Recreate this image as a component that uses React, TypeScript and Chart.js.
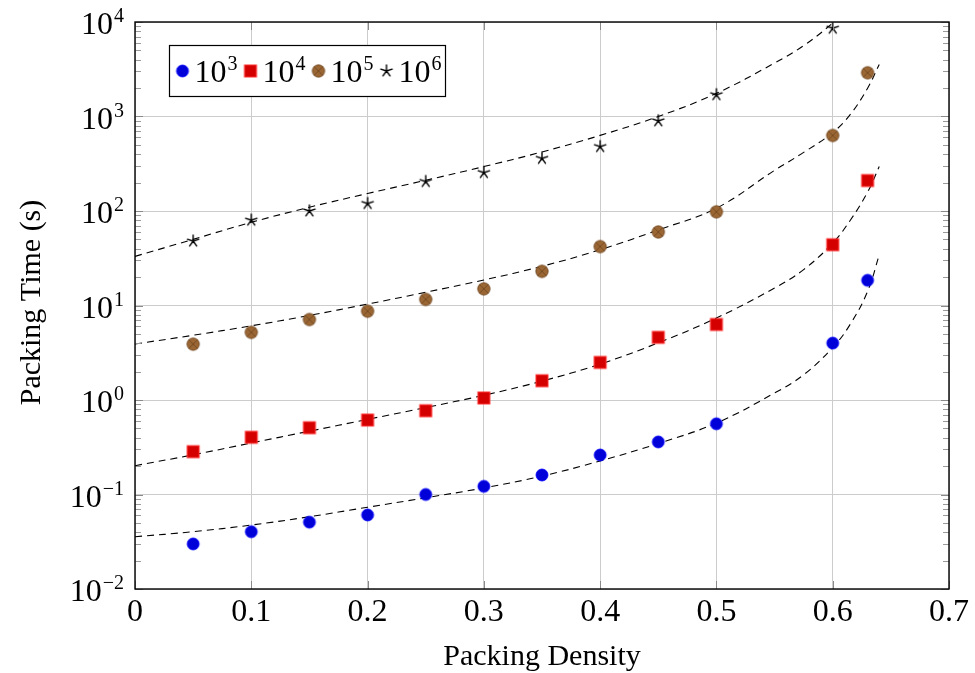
import React, { useEffect, useRef } from 'react';
import { Chart, registerables } from 'chart.js';
Chart.register(...registerables);

// ---- data ----
const densities = [0.05, 0.1, 0.15, 0.2, 0.25, 0.3, 0.35, 0.4, 0.45, 0.5, 0.6, 0.63];
const densitiesStar = [0.05, 0.1, 0.15, 0.2, 0.25, 0.3, 0.35, 0.4, 0.45, 0.5, 0.6];
const time1e3 = [0.030, 0.0404, 0.051, 0.0607, 0.10, 0.122, 0.161, 0.262, 0.36, 0.56, 4.0, 18.5];
const time1e4 = [0.284, 0.403, 0.509, 0.614, 0.77, 1.05, 1.6, 2.5, 4.6, 6.3, 44, 210];
const time1e5 = [3.9, 5.2, 7.1, 8.7, 11.6, 15, 23, 42, 60, 98, 630, 2900];
const time1e6 = [48, 80, 100, 120, 205, 255, 360, 480, 900, 1700, 8600];

// dashed fit curves
const fitDensity = [0, 0.05, 0.1, 0.15, 0.2, 0.25, 0.3, 0.35, 0.4, 0.45, 0.5, 0.55, 0.575, 0.6, 0.615, 0.63, 0.64];
const fit1e3 = [0.0357, 0.0404, 0.0475, 0.0582, 0.0733, 0.0923, 0.1175, 0.1567, 0.2265, 0.3467, 0.571, 1.186, 1.849, 3.597, 6.31, 14.13, 34.2];
const fit1e4 = [0.2018, 0.263, 0.3508, 0.4677, 0.6237, 0.8318, 1.122, 1.585, 2.399, 4.027, 7.38, 15.31, 23.99, 45.81, 79.43, 158.5, 295.1];
const fit1e5 = [3.917, 4.842, 6.095, 7.852, 10.35, 13.8, 18.62, 26.0, 38.9, 63.1, 107.2, 269.2, 416.9, 676.1, 1047, 1995, 3548];
const fitDensityStar = [0, 0.05, 0.1, 0.15, 0.2, 0.25, 0.3, 0.35, 0.4, 0.45, 0.5, 0.55, 0.575, 0.6, 0.61];
const fit1e6 = [33.1, 50.1, 75.9, 109.6, 153.1, 211.3, 295.1, 421.7, 631, 1000, 1758, 3681, 5623, 9772, 13180];

const xTicks = [0, 0.1, 0.2, 0.3, 0.4, 0.5, 0.6, 0.7];
const yExponents = [-2, -1, 0, 1, 2, 3, 4];
const seriesExponents = ['3', '4', '5', '6'];

const FONT = '"Liberation Serif", "Times New Roman", serif';

function makeMarker(kind: string): HTMLCanvasElement {
  const c = document.createElement('canvas');
  const s = 16;
  c.width = s; c.height = s;
  const g = c.getContext('2d')!;
  const m = s / 2;
  if (kind === 'blue') {
    g.beginPath(); g.arc(m, m, 6, 0, Math.PI * 2);
    g.fillStyle = '#0000d8'; g.fill();
    g.lineWidth = 0.8; g.strokeStyle = '#0000ff'; g.stroke();
  } else if (kind === 'red') {
    g.fillStyle = '#d40000';
    g.fillRect(m - 6, m - 6, 12, 12);
    g.lineWidth = 1; g.strokeStyle = '#ff3030';
    g.strokeRect(m - 6, m - 6, 12, 12);
  } else if (kind === 'brown') {
    g.beginPath(); g.arc(m, m, 6.2, 0, Math.PI * 2);
    g.fillStyle = '#9a6634'; g.fill();
    g.lineWidth = 0.8; g.strokeStyle = '#6e4520'; g.stroke();
    const r = 6.2 * Math.SQRT1_2;
    g.beginPath();
    g.moveTo(m - r, m - r); g.lineTo(m + r, m + r);
    g.moveTo(m + r, m - r); g.lineTo(m - r, m + r);
    g.lineWidth = 0.8; g.strokeStyle = '#6e4520'; g.stroke();
  } else {
    g.beginPath();
    for (let i = 0; i < 5; i++) {
      const a = -Math.PI / 2 + (i * 2 * Math.PI) / 5;
      g.moveTo(m, m);
      g.lineTo(m + 6 * Math.cos(a), m + 6 * Math.sin(a));
    }
    g.lineWidth = 1.4; g.lineCap = 'round'; g.strokeStyle = '#000'; g.stroke();
  }
  return c;
}

const SUP: Record<string, string> = { '-': '\u2212' };

function drawPow(ctx: CanvasRenderingContext2D, exp: string, x: number, baseY: number, align: 'left' | 'right', baseSize: number, expSize: number, raise: number) {
  const e = exp.split('').map((ch) => SUP[ch] || ch).join('');
  ctx.font = `${baseSize}px ${FONT}`;
  const wb = ctx.measureText('10').width;
  ctx.font = `${expSize}px ${FONT}`;
  const we = ctx.measureText(e).width;
  const start = align === 'left' ? x : x - wb - we - 1;
  ctx.textAlign = 'left';
  ctx.textBaseline = 'alphabetic';
  ctx.fillStyle = '#000';
  ctx.font = `${baseSize}px ${FONT}`;
  ctx.fillText('10', start, baseY);
  ctx.font = `${expSize}px ${FONT}`;
  ctx.fillText(e, start + wb + 1, baseY - raise);
  return wb + we + 1;
}

export default function App() {
  const ref = useRef<HTMLCanvasElement>(null);
  useEffect(() => {
    document.body.style.margin = '0';
    const markers = {
      blue: makeMarker('blue'),
      red: makeMarker('red'),
      brown: makeMarker('brown'),
      star: makeMarker('star'),
    };
    const pts = (xs: number[], ys: number[]) => xs.map((x, i) => ({ x, y: ys[i] }));
    const fitDs = (xs: number[], ys: number[]) => ({
      type: 'line' as const,
      data: pts(xs, ys),
      borderColor: '#000',
      borderWidth: 1.1,
      borderDash: [7, 5],
      pointRadius: 0,
      fill: false,
      tension: 0.4,
      order: 10,
      isFit: true,
    });
    const scDs = (xs: number[], ys: number[], m: HTMLCanvasElement, exp: string) => ({
      type: 'scatter' as const,
      label: exp,
      data: pts(xs, ys),
      pointStyle: m,
      pointRadius: 6,
      order: 1,
      showLine: false,
    });

    const decoPlugin = {
      id: 'deco',
      afterDraw(chart: any) {
        const { ctx, chartArea: a, scales } = chart;
        const xs = scales.x, ys = scales.y;
        ctx.save();
        // minor ticks on y
        ctx.strokeStyle = '#9a9a9a';
        ctx.lineWidth = 1;
        ctx.beginPath();
        for (let e = -2; e < 4; e++) {
          for (let k = 2; k <= 9; k++) {
            const y = Math.round(ys.getPixelForValue(k * Math.pow(10, e))) + 0.5;
            ctx.moveTo(a.left, y); ctx.lineTo(a.left + 6, y);
            ctx.moveTo(a.right, y); ctx.lineTo(a.right - 6, y);
          }
        }
        ctx.stroke();
        // major ticks
        ctx.strokeStyle = '#8a8a8a';
        ctx.beginPath();
        for (const e of yExponents) {
          const y = Math.round(ys.getPixelForValue(Math.pow(10, e))) + 0.5;
          ctx.moveTo(a.left, y); ctx.lineTo(a.left + 8, y);
          ctx.moveTo(a.right, y); ctx.lineTo(a.right - 8, y);
        }
        for (const v of xTicks) {
          const x = Math.round(xs.getPixelForValue(v)) + 0.5;
          ctx.moveTo(x, a.top); ctx.lineTo(x, a.top + 8);
          ctx.moveTo(x, a.bottom); ctx.lineTo(x, a.bottom - 8);
        }
        ctx.stroke();
        // frame
        ctx.strokeStyle = '#000';
        ctx.lineWidth = 1.4;
        ctx.strokeRect(a.left, a.top, a.right - a.left, a.bottom - a.top);
        // x tick labels
        ctx.fillStyle = '#000';
        ctx.font = `32px ${FONT}`;
        ctx.textAlign = 'center';
        ctx.textBaseline = 'alphabetic';
        for (const v of xTicks) {
          const x = xs.getPixelForValue(v);
          ctx.fillText(v === 0 ? '0' : v.toFixed(1), x, a.bottom + 32);
        }
        // y tick labels
        for (const e of yExponents) {
          const y = ys.getPixelForValue(Math.pow(10, e));
          drawPow(ctx, String(e), a.left - 11, y + 12, 'right', 32, 20, 12);
        }
        // axis titles
        ctx.font = `30px ${FONT}`;
        ctx.textAlign = 'center';
        ctx.fillStyle = '#000';
        ctx.fillText('Packing Density', (a.left + a.right) / 2, 665);
        ctx.save();
        ctx.translate(40, (a.top + a.bottom) / 2 - 3);
        ctx.rotate(-Math.PI / 2);
        ctx.fillText('Packing Time (s)', 0, 0);
        ctx.restore();
        // legend
        const bx = 169.5, by = 45.5, bw = 276, bh = 51;
        ctx.fillStyle = '#fff';
        ctx.fillRect(bx, by, bw, bh);
        ctx.strokeStyle = '#000';
        ctx.lineWidth = 1.2;
        ctx.strokeRect(bx, by, bw, bh);
        const cy = by + bh / 2;
        let cx = bx + 13;
        chart.data.datasets.forEach((ds: any) => {
          if (ds.isFit) return;
          const m = ds.pointStyle as HTMLCanvasElement;
          ctx.drawImage(m, cx - m.width / 2, cy - m.height / 2);
          const w = drawPow(ctx, ds.label, cx + 12, cy + 11, 'left', 32, 20, 12);
          cx = cx + 12 + w + 13;
        });
        ctx.restore();
      },
    };

    const chart = new Chart(ref.current!, {
      type: 'scatter',
      data: {
        datasets: [
          fitDs(fitDensity, fit1e3),
          fitDs(fitDensity, fit1e4),
          fitDs(fitDensity, fit1e5),
          fitDs(fitDensityStar, fit1e6),
          scDs(densities, time1e3, markers.blue, seriesExponents[0]),
          scDs(densities, time1e4, markers.red, seriesExponents[1]),
          scDs(densities, time1e5, markers.brown, seriesExponents[2]),
          scDs(densitiesStar, time1e6, markers.star, seriesExponents[3]),
        ] as any,
      },
      options: {
        responsive: false,
        animation: false,
        layout: { padding: { left: 0, top: 22, right: 26, bottom: 0 } },
        plugins: { legend: { display: false }, tooltip: { enabled: false } },
        scales: {
          x: {
            type: 'linear',
            min: 0,
            max: 0.7,
            ticks: { display: false, stepSize: 0.1 },
            grid: { color: '#cccccc', lineWidth: 1, drawTicks: false },
            border: { display: false },
            afterFit: (s: any) => { s.height = 84; },
          },
          y: {
            type: 'logarithmic',
            min: 0.01,
            max: 10000,
            ticks: { display: false },
            afterBuildTicks: (s: any) => {
              s.ticks = yExponents.map((e) => ({ value: Math.pow(10, e), major: true }));
            },
            grid: { color: '#cccccc', lineWidth: 1, drawTicks: false },
            border: { display: false },
            afterFit: (s: any) => { s.width = 135; },
          },
        },
      },
      plugins: [decoPlugin],
    });
    return () => chart.destroy();
  }, []);
  return (
    <div style={{ width: 975, height: 673 }}>
      <canvas ref={ref} width={975} height={673} style={{ display: 'block' }} />
    </div>
  );
}
